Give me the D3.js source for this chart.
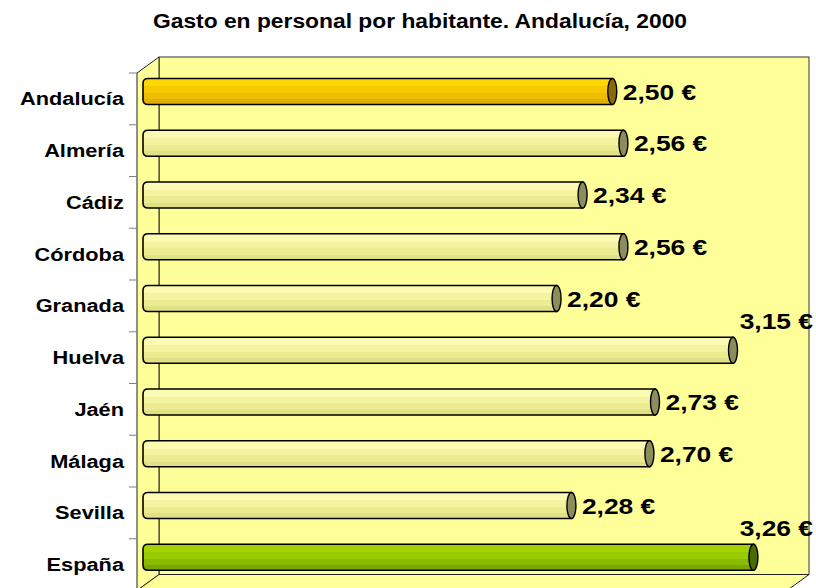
<!DOCTYPE html>
<html>
<head>
<meta charset="utf-8">
<script src="https://cdn.jsdelivr.net/npm/d3@7"></script>
<style>
  body { margin: 0; background: #fff; }
  text { font-family: "Liberation Sans", Arial, sans-serif; font-weight: bold; fill: #000; }
</style>
</head>
<body>
<div id="chart"></div>
<script>
// data
var categories = ["Andalucía", "Almería", "Cádiz", "Córdoba", "Granada", "Huelva", "Jaén", "Málaga", "Sevilla", "España"];
var values = [2.50, 2.56, 2.34, 2.56, 2.20, 3.15, 2.73, 2.70, 2.28, 3.26];
var tones = ["region", "prov", "prov", "prov", "prov", "prov", "prov", "prov", "prov", "spain"];
var title = "Gasto en personal por habitante. Andalucía, 2000";

var W = 816, H = 588;
// front plane of the 3d box, plus depth offset
var plot = {left: 137, right: 787, top: 73, bottom: 590.5},
    depth = {dx: 22, dy: -16};

var svg = d3.select("#chart").append("svg")
    .attr("width", W)
    .attr("height", H);

var x = d3.scaleLinear()
    .domain([0, 3.5])
    .range([plot.left, plot.right]);

var y = d3.scaleBand()
    .domain(categories)
    .range([plot.top, plot.bottom]);

var fmt = d3.formatLocale({decimal: ",", thousands: ".", grouping: [3], currency: ["", " €"]}).format("$.2f");

// gradients
var defs = svg.append("defs");
var palette = {
  region: {stops: ["#ffd800", "#f6c800", "#eebd00", "#e2ae00"], cap: "#8a6a08"},
  prov:   {stops: ["#fbfbb4", "#f3f3a0", "#ebeb92", "#e0e084"], cap: "#8c8c5c"},
  spain:  {stops: ["#a4d400", "#99cc00", "#8abb00", "#7aa600"], cap: "#4d6a00"}
};
Object.keys(palette).forEach(function(k) {
  var g = defs.append("linearGradient").attr("id", "g-" + k)
      .attr("x1", 0).attr("y1", 0).attr("x2", 0).attr("y2", 1);
  var s = palette[k].stops;
  [[0, s[0]], [0.3, s[0]], [0.3, s[1]], [0.55, s[1]], [0.55, s[2]], [0.8, s[2]], [0.8, s[3]], [1, s[3]]]
    .forEach(function(p) { g.append("stop").attr("offset", p[0]).attr("stop-color", p[1]); });
});

// walls: back, left, floor
svg.append("rect")
    .attr("x", plot.left + depth.dx)
    .attr("y", plot.top + depth.dy)
    .attr("width", plot.right - plot.left)
    .attr("height", plot.bottom - plot.top)
    .attr("fill", "#ffff99")
    .attr("stroke", "#333")
    .attr("stroke-width", 1);

svg.append("polygon")
    .attr("points", [[plot.left, plot.top], [plot.left + depth.dx, plot.top + depth.dy],
                     [plot.left + depth.dx, plot.bottom + depth.dy], [plot.left, plot.bottom]].join(" "))
    .attr("fill", "#ffff99")
    .attr("stroke", "#222")
    .attr("stroke-width", 1);

svg.append("polygon")
    .attr("points", [[plot.left, plot.bottom], [plot.left + depth.dx, plot.bottom + depth.dy],
                     [plot.right + depth.dx, plot.bottom + depth.dy], [plot.right, plot.bottom]].join(" "))
    .attr("fill", "#ffff99")
    .attr("stroke", "#222")
    .attr("stroke-width", 1);

// category ticks on the front edge
svg.append("g").selectAll("line")
    .data(categories)
    .enter().append("line")
    .attr("x1", plot.left - 8).attr("x2", plot.left)
    .attr("y1", function(d) { return y(d); })
    .attr("y2", function(d) { return y(d); })
    .attr("stroke", "#808080");

// stretched bold text helper (reference glyphs are wider than plain Arial)
function label(sel, tx, ty, txt, size, anchor, sx) {
  sel.append("g")
      .attr("transform", "translate(" + tx + "," + ty + ") scale(" + sx + ",1)")
    .append("text")
      .attr("font-size", size)
      .attr("text-anchor", anchor)
      .text(txt);
}

// category labels
var bh = 26, r = 5, rx = 4.5;
categories.forEach(function(c) {
  label(svg, 124, y(c) + y.bandwidth() / 2 + 6.5, c, 18, "end", 1.21);
});

// bars
var data = categories.map(function(c, i) { return {cat: c, val: values[i], tone: tones[i]}; });
var bars = svg.append("g").selectAll("g")
    .data(data)
    .enter().append("g");

function barTop(d) { return y(d.cat) + 5.5; }
function barEnd(d) { return x(d.val) + depth.dx / 2; }

bars.append("path")
    .attr("d", function(d) {
      var x0 = x(0) + 6, x1 = barEnd(d), t = barTop(d), b = t + bh;
      return "M" + (x0 + r) + "," + t + "L" + x1 + "," + t + "L" + x1 + "," + b +
             "L" + (x0 + r) + "," + b + "Q" + x0 + "," + b + " " + x0 + "," + (b - r) +
             "L" + x0 + "," + (t + r) + "Q" + x0 + "," + t + " " + (x0 + r) + "," + t + "Z";
    })
    .attr("fill", function(d) { return "url(#g-" + d.tone + ")"; })
    .attr("stroke", "#000")
    .attr("stroke-width", 1.6);

bars.append("ellipse")
    .attr("cx", barEnd)
    .attr("cy", function(d) { return barTop(d) + bh / 2; })
    .attr("rx", rx)
    .attr("ry", bh / 2)
    .attr("fill", function(d) { return palette[d.tone].cap; })
    .attr("stroke", "#000")
    .attr("stroke-width", 1.4);

// value labels; the ones that would run past the wall go above the bar
var wallRight = plot.right + depth.dx;
data.forEach(function(d) {
  var txt = fmt(d.val), sx = 1.2, fs = 22;
  var tmp = svg.append("text").attr("font-size", fs).text(txt);
  var w = tmp.node().getComputedTextLength() * sx;
  tmp.remove();
  var tx = barEnd(d) + rx + 6;
  if (tx + w > wallRight) {
    label(svg, W - 3, barTop(d) - 8, txt, fs, "end", sx);
  } else {
    label(svg, tx, barTop(d) + bh / 2 + 8, txt, fs, "start", sx);
  }
});

// title
label(svg, 420, 28, title, 19.5, "middle", 1.17);
</script>
</body>
</html>
